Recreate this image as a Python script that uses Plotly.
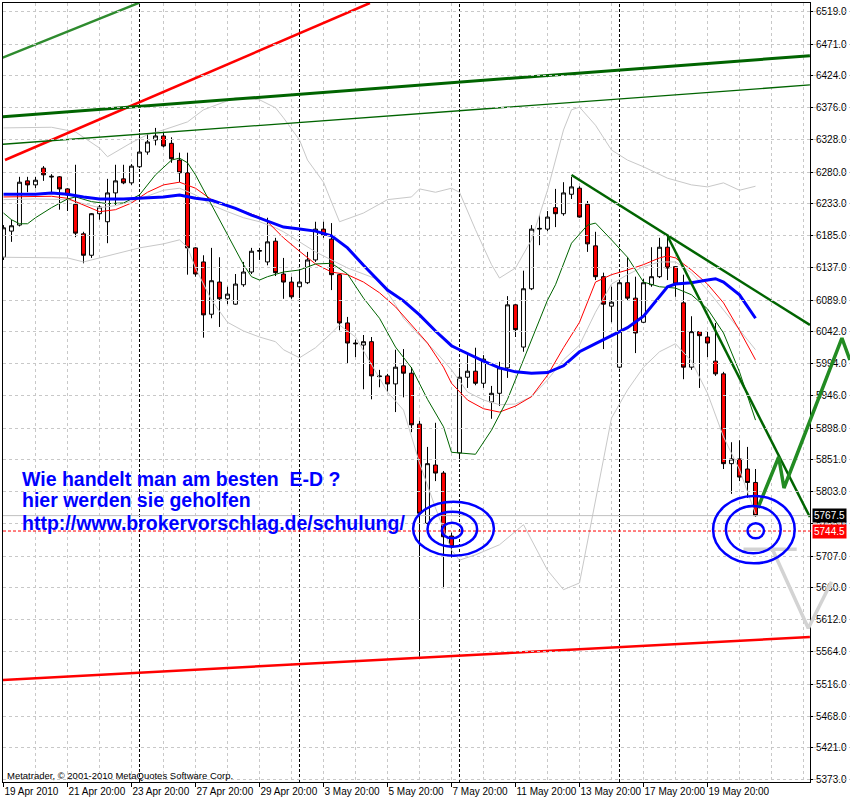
import plotly.graph_objects as go

# ---------------- DATA ----------------
bars = list(range(95))
opens = [6153, 6192, 6201, 6267, 6261, 6286, 6274, 6273, 6255, 6232,
         6188, 6156, 6218, 6206, 6249, 6270, 6264, 6288, 6310, 6328,
         6334, 6323, 6298, 6279, 6167, 6146, 6068, 6116, 6091, 6083,
         6112, 6131, 6162, 6146, 6177, 6128, 6116, 6109, 6115, 6149,
         6195, 6180, 6127, 6055, 6025, 6022, 6027, 5976, 5976, 5964,
         5991, 5980, 5904, 5756, 5843, 5831, 5737, 5861, 5974, 5983,
         5965, 5937, 5950, 5988, 6082, 6019, 6106, 6195, 6195, 6227,
         6218, 6247, 6256, 6232, 6170, 6124, 6080, 5989, 6115, 6092,
         6056, 6112, 6124, 6168, 6139, 6085, 5989, 6042, 6034, 5998,
         5979, 5845, 5852, 5837, 5817]
highs = [6201, 6209, 6273, 6273, 6273, 6289, 6277, 6274, 6256, 6291,
         6191, 6219, 6231, 6270, 6291, 6291, 6292, 6338, 6338, 6346,
         6340, 6332, 6309, 6309, 6168, 6156, 6167, 6153, 6109, 6128,
         6146, 6167, 6167, 6212, 6182, 6152, 6124, 6133, 6161, 6206,
         6206, 6204, 6128, 6064, 6030, 6037, 6034, 5985, 5979, 6015,
         6016, 5989, 5909, 5870, 5906, 5834, 5742, 5988, 6007, 6018,
         6007, 5961, 5997, 6095, 6083, 6133, 6201, 6216, 6222, 6255,
         6265, 6273, 6259, 6237, 6191, 6130, 6109, 6119, 6153, 6124,
         6121, 6168, 6182, 6185, 6140, 6127, 6065, 6043, 6042, 6055,
         5982, 5877, 5880, 5870, 5837]
lows = [6149, 6176, 6199, 6250, 6256, 6267, 6250, 6224, 6222, 6183,
        6144, 6152, 6209, 6174, 6231, 6262, 6261, 6286, 6306, 6320,
        6317, 6294, 6265, 6127, 6124, 6033, 6062, 6049, 6083, 6082,
        6109, 6128, 6149, 6141, 6125, 6091, 6091, 6092, 6113, 6146,
        6182, 6104, 6044, 5995, 6004, 5956, 5941, 5959, 5952, 5922,
        5944, 5892, 5557, 5749, 5819, 5659, 5705, 5848, 5958, 5962,
        5958, 5912, 5931, 5973, 6034, 6012, 6104, 6171, 6192, 6198,
        6215, 6240, 6212, 6161, 6119, 6016, 6056, 5987, 6089, 6010,
        6055, 6109, 6122, 6119, 6094, 5971, 5985, 5958, 6004, 5976,
        5837, 5800, 5819, 5794, 5766]
closes = [6197, 6200, 6265, 6261, 6268, 6276, 6273, 6255, 6246, 6189,
          6156, 6218, 6228, 6249, 6267, 6264, 6289, 6310, 6325, 6334,
          6319, 6300, 6279, 6167, 6128, 6067, 6118, 6091, 6098, 6113,
          6131, 6162, 6163, 6176, 6130, 6116, 6094, 6116, 6149, 6195,
          6186, 6127, 6055, 6025, 6024, 6027, 5976, 5975, 5964, 5989,
          5980, 5903, 5771, 5845, 5831, 5736, 5721, 5974, 5983, 5965,
          6001, 5950, 5988, 6082, 6045, 6106, 6195, 6196, 6213, 6218,
          6249, 6258, 6213, 6173, 6124, 6083, 6086, 6115, 6092, 6040,
          6115, 6124, 6168, 6137, 6113, 5989, 6042, 6036, 6025, 5979,
          5845, 5852, 5825, 5817, 5767.5]

# x-axis labels (every 8 bars)
tick_bars = [0, 8, 16, 24, 32, 40, 48, 56, 64, 72, 80, 88]
tick_text = ["19 Apr 2010", "21 Apr 20:00", "23 Apr 20:00", "27 Apr 20:00",
             "29 Apr 20:00", "3 May 20:00", "5 May 20:00", "7 May 20:00",
             "11 May 20:00", "13 May 20:00", "17 May 20:00", "19 May 20:00"]
week_starts = [17, 37, 57, 77]

price_ticks = [6519.0, 6471.0, 6424.0, 6376.0, 6328.0, 6280.0, 6233.0, 6185.0,
               6137.0, 6089.0, 6042.0, 5994.0, 5946.0, 5898.0, 5851.0, 5803.0,
               5755.0, 5707.0, 5660.0, 5612.0, 5564.0, 5516.0, 5468.0, 5421.0,
               5373.0]

# indicator lines (read at sample bars)
blue_x = [0, 4, 6, 8, 10, 12, 15, 17, 20, 22, 24, 26, 29, 31, 33, 35, 37, 39, 41, 43,
          45, 48, 50, 52, 54, 56, 57, 60, 62, 64, 66, 68, 70, 72, 74, 76, 78, 80, 82,
          83, 84, 86, 88, 89, 90, 92, 94]
blue_y = [6247, 6247, 6249, 6247, 6243, 6240, 6240, 6241, 6243, 6246, 6241, 6238, 6226,
          6216, 6207, 6198, 6195, 6192, 6185, 6167, 6141, 6104, 6088, 6067, 6043, 6021,
          6015, 5998, 5988, 5982, 5980, 5981, 5991, 6012, 6024, 6036, 6048, 6065, 6095,
          6109, 6113, 6115, 6119, 6121, 6116, 6097, 6062]

red_x = [0, 2, 6, 8, 10, 12, 14, 16, 18, 20, 22, 24, 26, 28, 30, 32, 33, 35, 37, 39, 41,
         43, 45, 47, 49, 51, 53, 55, 56, 58, 60, 62, 64, 66, 68, 70, 72, 74, 76, 78, 80,
         82, 83, 84, 86, 88, 90, 92, 94]
red_y = [6243, 6243, 6244, 6241, 6231, 6221, 6224, 6234, 6250, 6261, 6265, 6256, 6239,
         6230, 6222, 6213, 6206, 6182, 6162, 6143, 6131, 6127, 6116, 6100, 6079, 6052,
         6025, 5989, 5965, 5940, 5927, 5922, 5931, 5945, 5977, 6018, 6056, 6116, 6127,
         6134, 6142, 6152, 6155, 6152, 6134, 6113, 6085, 6044, 6000]

green_x = [0, 1, 2, 3, 4, 6, 8, 9, 11, 13, 15, 17, 19, 21, 22, 23, 24, 26, 28, 30, 31,
           32, 33, 35, 37, 39, 41, 43, 45, 47, 49, 51, 53, 55, 56, 57, 59, 61, 63, 65,
           66, 68, 69, 71, 73, 74, 76, 78, 80, 82, 84, 86, 88, 90, 92, 94]
green_y = [6219, 6209, 6203, 6203, 6212, 6227, 6240, 6243, 6236, 6233, 6234, 6246, 6276,
           6298, 6301, 6294, 6276, 6231, 6186, 6142, 6124, 6119, 6124, 6131, 6134, 6143,
           6144, 6128, 6092, 6062, 6019, 5988, 5941, 5900, 5862, 5861, 5859, 5895, 5941,
           6000, 6030, 6089, 6112, 6174, 6201, 6204, 6179, 6153, 6116, 6109, 6107, 6097,
           6076, 6040, 5982, 5910]

bb_up_x = [0, 6, 9, 12, 13, 14, 16, 18, 20, 23, 25, 29, 32, 34, 35, 37, 38, 40, 42, 45,
           48, 51, 52, 54, 56, 57, 59, 61, 62, 64, 66, 68, 70, 71, 72, 74, 76, 78, 80,
           83, 86, 88, 90, 92, 94]
bb_up_y = [6346, 6347, 6340, 6316, 6303, 6310, 6324, 6336, 6343, 6355, 6373, 6391, 6388,
           6376, 6361, 6328, 6298, 6265, 6206, 6219, 6239, 6243, 6255, 6250, 6256, 6250,
           6194, 6142, 6122, 6137, 6179, 6253, 6343, 6373, 6377, 6350, 6313, 6298, 6288,
           6271, 6261, 6258, 6264, 6253, 6259]

bb_mid_x = [0, 4, 8, 10, 12, 14, 17, 20, 22, 24, 26, 28, 30, 32, 34, 35, 39, 43, 47, 49,
            50, 52, 54, 56, 58, 60, 62, 64, 66, 68, 70, 72, 74, 76, 78, 80, 82, 84, 86,
            88, 90, 92, 94]
bb_mid_y = [6239, 6240, 6239, 6233, 6227, 6230, 6240, 6253, 6256, 6246, 6231, 6221, 6212,
            6206, 6197, 6191, 6161, 6137, 6119, 6082, 6062, 6036, 6012, 5985, 5952, 5940,
            5933, 5934, 5945, 5970, 6000, 6022, 6071, 6113, 6127, 6139, 6146, 6146, 6130,
            6104, 6074, 6045, 6015]

bb_lo_x = [0, 4, 8, 10, 12, 14, 17, 20, 22, 23, 24, 26, 28, 30, 32, 34, 35, 37, 39, 41,
           42, 44, 46, 48, 50, 52, 54, 56, 57, 59, 62, 65, 68, 70, 72, 74, 76, 78, 80,
           82, 84, 86, 88, 90, 92, 94]
bb_lo_y = [6153, 6153, 6152, 6146, 6152, 6159, 6167, 6173, 6179, 6168, 6137, 6089, 6056,
           6043, 6034, 6027, 6015, 6003, 6018, 6040, 6052, 6034, 5992, 5952, 5925, 5846,
           5779, 5716, 5701, 5709, 5724, 5754, 5686, 5657, 5667, 5792, 5913, 5955, 5989,
           6012, 6024, 5998, 5950, 5885, 5836, 5770]

# hand-drawn objects: anchor points (bar, price)
tl_green_top = ([-0.1, 17.0], [6450.8, 6532.9])
tl_red_up = ([0.19, 45.8], [6298.1, 6532.4])
tl_dkgreen_thick = ([-0.1, 100.8], [6362.7, 6453.8])
tl_dkgreen_thin = ([-0.1, 100.8], [6321.6, 6410.1])
tl_red_support = ([-0.1, 100.8], [5522.2, 5586.4])
tl_down_1 = ([71.0, 100.8], [6275.8, 6051.9])
tl_down_2 = ([83.06, 100.8], [6183.2, 5765.4])
zig_green = ([94.3, 96.9, 97.56, 104.8, 105.8], [5778.9, 5855.0, 5808.7, 6032.5, 5999.7])
zig_gray_bar = ([92.5, 99.15], [5717.2, 5717.2])
zig_gray_v = ([96.2, 100.6, 103.5], [5715.1, 5599.3, 5668.9])

# ellipses: x0, x1 (bars), y0, y1 (prices)
ell_x0 = [51.2, 53.0, 54.8, 88.7, 90.3, 93.0]
ell_x1 = [61.3, 59.2, 57.35, 98.9, 97.15, 95.06]
ell_y0 = [5707.7, 5721.1, 5733.6, 5696.3, 5711.3, 5733.6]
ell_y1 = [5788.3, 5773.3, 5756.9, 5796.8, 5781.9, 5756.0]

bid_price = 5767.5
ask_price = 5744.5

text_lines = ["Wie handelt man am besten\u00a0\u00a0E-D ?",
              "hier werden sie geholfen",
              "http://www.brokervorschlag.de/schulung/"]
text_prices = [5822.0, 5791.5, 5757.0]
copyright_text = "Metatrader, \u00a9 2001-2010 MetaQuotes Software Corp."

# ---------------- FIGURE ----------------
W, H = 850, 800
ML, MR, MT, MB = 3, 0, 3, 18
plot_w = W - ML - MR
main_w = 807
bar_px = 8.0
x_lo = -0.0625
x_hi = x_lo + main_w / bar_px
x2_hi = x_lo + plot_w / bar_px

fig = go.Figure()

FONT = "Liberation Sans"
GRID = "#C8C8C8"

# bands (gray)
for xs, ys in [(bb_up_x, bb_up_y), (bb_mid_x, bb_mid_y), (bb_lo_x, bb_lo_y)]:
    fig.add_trace(go.Scatter(x=xs, y=ys, mode="lines",
                             line=dict(color="#C8C8C8", width=1), hoverinfo="skip"))

fig.add_trace(go.Candlestick(
    x=bars, open=opens, high=highs, low=lows, close=closes,
    increasing=dict(line=dict(color="black", width=1), fillcolor="white"),
    decreasing=dict(line=dict(color="black", width=1), fillcolor="#FF0000"),
    whiskerwidth=0, hoverinfo="skip"))

fig.add_trace(go.Scatter(x=red_x, y=red_y, mode="lines",
                         line=dict(color="#FF0000", width=1), hoverinfo="skip"))
fig.add_trace(go.Scatter(x=green_x, y=green_y, mode="lines",
                         line=dict(color="#006400", width=1), hoverinfo="skip"))
fig.add_trace(go.Scatter(x=blue_x, y=blue_y, mode="lines",
                         line=dict(color="#0000FF", width=3), hoverinfo="skip"))

def seg(pts, color, width, xaxis="x"):
    fig.add_trace(go.Scatter(x=pts[0], y=pts[1], mode="lines", xaxis=xaxis,
                             line=dict(color=color, width=width), hoverinfo="skip"))

seg(tl_green_top, "#2E8B2E", 2.5)
seg(tl_red_up, "#FF0000", 2.5)
seg(tl_dkgreen_thick, "#006400", 3)
seg(tl_dkgreen_thin, "#006400", 1.3)
seg(tl_red_support, "#FF0000", 2.5)
seg(tl_down_1, "#006400", 2.5)
seg(tl_down_2, "#006400", 2.5)
seg(zig_gray_bar, "#D3D3D3", 3.5, "x2")
seg(zig_gray_v, "#D3D3D3", 3.5, "x2")
seg(zig_green, "#228B22", 3.5, "x2")

shapes = []
for b in week_starts:
    shapes.append(dict(type="line", xref="x", yref="paper", x0=b, x1=b, y0=0, y1=1,
                       line=dict(color="black", width=1, dash="3px,2px"), layer="below"))
shapes.append(dict(type="line", xref="x domain", yref="y", x0=0, x1=1,
                   y0=bid_price, y1=bid_price, line=dict(color="#C0C0C0", width=1)))
shapes.append(dict(type="line", xref="x domain", yref="y", x0=0, x1=1.003,
                   y0=ask_price, y1=ask_price, line=dict(color="#FF0000", width=1, dash="3px,2px")))
for a, b, c, d in zip(ell_x0, ell_x1, ell_y0, ell_y1):
    shapes.append(dict(type="circle", xref="x", yref="y", x0=a, x1=b, y0=c, y1=d,
                       line=dict(color="#0000FF", width=2.5)))

annotations = []
for t, p in zip(text_lines, text_prices):
    annotations.append(dict(x=2.0, y=p, xref="x", yref="y", text=t, showarrow=False,
                            xanchor="left", yanchor="middle",
                            font=dict(family=FONT, size=19.5, color="#0000FF", weight="bold")))
annotations.append(dict(x=0.2, y=5380.4, xref="x", yref="y", text=copyright_text,
                        showarrow=False, xanchor="left", yanchor="middle",
                        font=dict(family=FONT, size=9.5, color="black")))
px_to_paper = lambda px: (px - ML) / plot_w
for price, bg in [(bid_price, "black"), (ask_price, "#FF0000")]:
    annotations.append(dict(x=px_to_paper(812), y=price, xref="paper", yref="y",
                            text=f"{price:.1f}", showarrow=False, xanchor="left",
                            yanchor="middle", bgcolor=bg, borderpad=1,
                            font=dict(family=FONT, size=10, color="white")))

fig.update_layout(
    width=W, height=H, margin=dict(l=ML, r=MR, t=MT, b=MB, autoexpand=False),
    paper_bgcolor="white", plot_bgcolor="rgba(0,0,0,0)", showlegend=False,
    hovermode=False, shapes=shapes, annotations=annotations,
    xaxis=dict(domain=[0, main_w / plot_w], range=[x_lo, x_hi],
               tickvals=tick_bars, ticktext=tick_text, ticks="outside", ticklen=4,
               tickcolor="black", ticklabelposition="outside right", tickangle=0,
               tickfont=dict(family=FONT, size=10, color="black"), automargin=False,
               showline=True, linecolor="black", linewidth=1, mirror=True,
               showgrid=True, gridcolor=GRID, griddash="3px,3px", gridwidth=1,
               minor=dict(dtick=4, tick0=0, showgrid=True, gridcolor=GRID,
                          griddash="3px,3px", ticks=""),
               zeroline=False, rangeslider=dict(visible=False), fixedrange=True),
    xaxis2=dict(domain=[0, 1], range=[x_lo, x2_hi], anchor="y",
                visible=False, showgrid=False, zeroline=False, fixedrange=True),
    yaxis=dict(side="right", anchor="x", range=[5370.0, 6532.4],
               tickvals=price_ticks, ticktext=[f"{v:.1f}" for v in price_ticks],
               ticks="outside", ticklen=3, tickcolor="black", automargin=False,
               tickfont=dict(family=FONT, size=10, color="black"),
               showline=True, linecolor="black", linewidth=1, mirror=True,
               showgrid=True, gridcolor=GRID, griddash="3px,3px", gridwidth=1,
               zeroline=False, fixedrange=True),
)

fig.write_html("out.html", config={"displayModeBar": False},
               post_script="document.body.style.margin='0px';")
